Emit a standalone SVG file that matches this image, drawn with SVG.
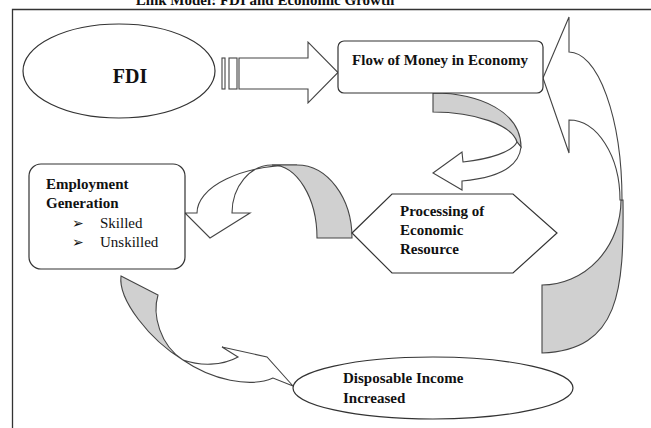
<svg xmlns="http://www.w3.org/2000/svg" width="651" height="428" viewBox="0 0 651 428">
<style>
.t{font-family:"Liberation Serif","Times New Roman",serif;font-size:15px;fill:#111;}
.b{font-weight:bold;}
.s{fill:#fff;stroke:#444;stroke-width:1.1;stroke-linejoin:miter;}
.g{fill:#d0d0d0;stroke:#444;stroke-width:1.1;}
.n{fill:#fff;stroke:#333;stroke-width:1.2;}
.bul{font-family:"DejaVu Sans",sans-serif;font-size:14px;fill:#111;}
</style>
<rect width="651" height="428" fill="#fff"/>
<text class="t b" x="265" y="5" text-anchor="middle">Link Model: FDI and Economic Growth</text>
<path d="M12.5,428 L12.5,9.5 L651,9.5" fill="none" stroke="#333" stroke-width="1.3"/>

<g id="connectors">
  <rect class="s" x="222" y="58" width="3" height="31"/>
  <rect class="s" x="229" y="58" width="8" height="31"/>
  <path class="s" d="M239,58 L308,58 L308,42 L338,72.5 L308,103 L308,89 L239,89 Z"/>
  <path class="g" d="M433,93 C480,93 521,112 521,147 L517,142 C512,125 475,112 433,112 Z"/>
  <path class="s" d="M433,173 L462,152 L463,162 C490,159 512,152 517,142 L521,147 C519,168 495,178 462,181 L462,190 Z"/>
  <path class="s" d="M185,213 L197,213 A100,48 0 0 1 297,165 L272,165 A40,48 0 0 0 232,213 L250,213 L210,238 Z"/>
  <path class="g" d="M272,165 L297,165 A55,73 0 0 1 352,238 L317,238 A45,73 0 0 0 272,165 Z"/>
  <path class="g" d="M121,276 L158,295 C152,315 160,345 183,360 C150,340 118,300 121,276 Z"/>
  <path class="s" d="M183,360 C200,366 222,366 238,357 L222,347 L267,357 L293,386 L273,378 C250,388 212,380 183,360 Z"/>
  <path class="g" d="M621,200 A79,85 0 0 1 542,285 L542,353 C620,350 624,290 623,200 Z"/>
  <path class="s" d="M543,78 L569,17 L569,52 A53,148 0 0 1 622,200 L620,200 A51,80 0 0 0 569,120 L569,153 Z"/>
</g>

<g id="fdi">
  <ellipse class="n" cx="119" cy="71" rx="96" ry="47"/>
  <text class="t b" x="130" y="83" text-anchor="middle" style="font-size:20px">FDI</text>
</g>

<g id="flow">
  <rect class="n" x="338" y="41" width="205" height="52" rx="6"/>
  <text class="t b" x="440" y="65" text-anchor="middle">Flow of Money in Economy</text>
</g>

<g id="processing">
  <polygon class="n" points="352,233 392,194 513,194 557,233 513,273 392,273"/>
  <text class="t b" x="400" y="216">Processing of</text>
  <text class="t b" x="400" y="235">Economic</text>
  <text class="t b" x="400" y="254">Resource</text>
</g>

<g id="employment">
  <rect class="n" x="29" y="164" width="156" height="105" rx="12"/>
  <text class="t b" x="46" y="189">Employment</text>
  <text class="t b" x="46" y="208">Generation</text>
  <text class="bul" x="72" y="228">➢</text>
  <text class="t" x="100" y="228">Skilled</text>
  <text class="bul" x="72" y="247">➢</text>
  <text class="t" x="100" y="247">Unskilled</text>
</g>

<g id="disposable">
  <ellipse class="n" cx="433" cy="388" rx="140" ry="31"/>
  <text class="t b" x="343" y="383">Disposable Income</text>
  <text class="t b" x="343" y="403">Increased</text>
</g>
</svg>
